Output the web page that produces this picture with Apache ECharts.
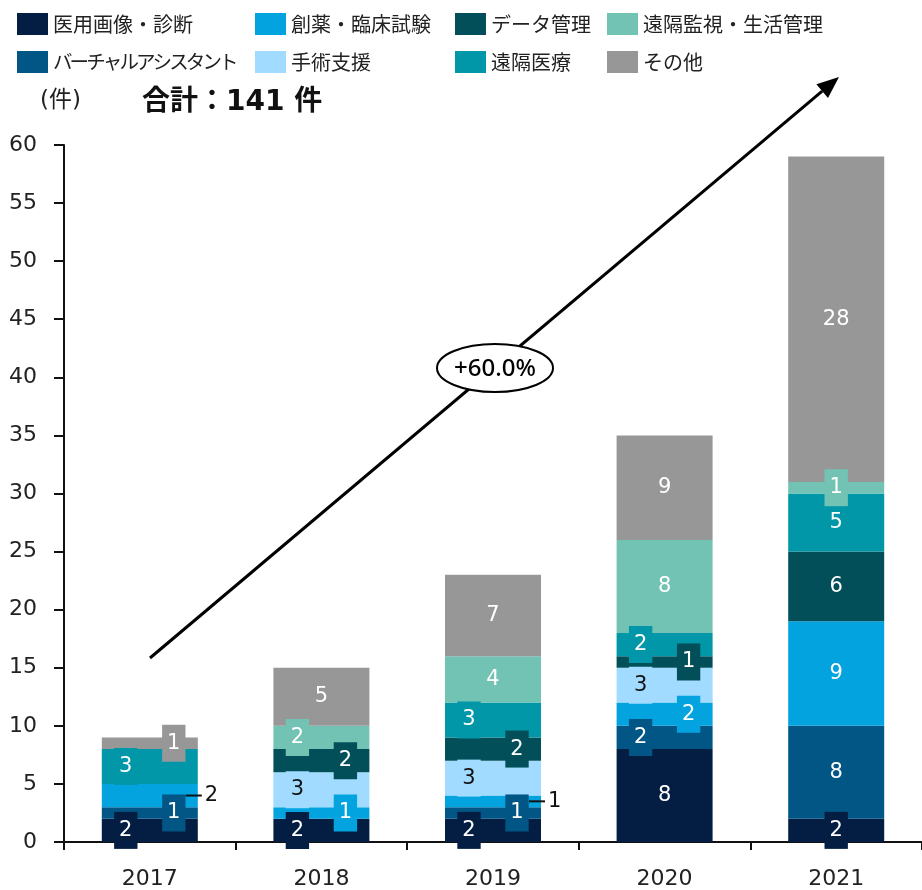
<!DOCTYPE html>
<html>
<head>
<meta charset="utf-8">
<script src="https://cdn.jsdelivr.net/npm/echarts@6/dist/echarts.min.js"></script>
<style>
  html, body { margin: 0; padding: 0; background: #fff; }
  #chart { width: 922px; height: 890px; }
</style>
</head>
<body>
<div id="chart"></div>
<script>
// 分野別の件数（2017〜2021年）
const years = ['2017', '2018', '2019', '2020', '2021'];

const medicalImaging   = [2, 2, 2, 8, 2];   // 医用画像・診断
const virtualAssistant = [1, 0, 1, 2, 8];   // バーチャルアシスタント
const drugDiscovery    = [2, 1, 1, 2, 9];   // 創薬・臨床試験
const surgerySupport   = [0, 3, 3, 3, 0];   // 手術支援
const dataManagement   = [0, 2, 2, 1, 6];   // データ管理
const telemedicine     = [3, 0, 3, 2, 5];   // 遠隔医療
const remoteMonitoring = [0, 2, 4, 8, 1];   // 遠隔監視・生活管理
const others           = [1, 5, 7, 9, 28];  // その他

const yTicks = { min: 0, max: 60, interval: 5 };

// 系列の定義（積み上げ順）
const seriesDefs = [
  { name: '医用画像・診断',         values: medicalImaging,   color: '#031e42', text: '#fff' },
  { name: 'バーチャルアシスタント', values: virtualAssistant, color: '#025686', text: '#fff' },
  { name: '創薬・臨床試験',         values: drugDiscovery,    color: '#03a3e0', text: '#fff' },
  { name: '手術支援',               values: surgerySupport,   color: '#a1dbff', text: '#111' },
  { name: 'データ管理',             values: dataManagement,   color: '#024f59', text: '#fff' },
  { name: '遠隔医療',               values: telemedicine,     color: '#0197a8', text: '#fff' },
  { name: '遠隔監視・生活管理',     values: remoteMonitoring, color: '#72c3b3', text: '#fff' },
  { name: 'その他',                 values: others,           color: '#979797', text: '#fff' }
];

// ラベルの配置：L=左寄せ, R=右寄せ, C=中央, O=棒の外側
const labelSide = [
  ['L', 'L', 'L', 'C', 'C'],
  ['R', 'C', 'R', 'L', 'C'],
  ['O', 'R', 'O', 'R', 'C'],
  ['C', 'L', 'L', 'L', 'C'],
  ['C', 'R', 'R', 'R', 'C'],
  ['L', 'C', 'L', 'L', 'C'],
  ['C', 'L', 'C', 'C', 'C'],
  ['R', 'C', 'C', 'C', 'C']
];

const totals = years.map((_, i) => seriesDefs.reduce((s, d) => s + d.values[i], 0));
const grandTotal = totals.reduce((a, b) => a + b, 0);
const cagr = Math.pow(totals[totals.length - 1] / totals[0], 1 / (years.length - 1)) - 1;

const FONT = '"Noto Sans CJK JP", "Noto Sans", sans-serif';
const NUM_FONT = '"DejaVu Sans", "Noto Sans CJK JP", sans-serif';
const SHIFT = 24;

const barSeries = seriesDefs.map((def, si) => ({
  name: def.name,
  type: 'bar',
  stack: 'total',
  barWidth: 96,
  itemStyle: { color: def.color },
  emphasis: { disabled: true },
  data: def.values.map((v, yi) => {
    const side = labelSide[si][yi];
    let label;
    if (v === 0) {
      label = { show: false };
    } else if (side === 'O') {
      label = {
        show: true,
        position: 'right',
        distance: 0,
        offset: [-12, 0],
        formatter: '{ln| }{v|' + v + '}',
        rich: {
          ln: { width: 16, height: 2, backgroundColor: '#111', verticalAlign: 'middle' },
          v: { fontSize: 21, color: '#111', fontFamily: NUM_FONT, padding: [0, 0, 0, 3] }
        }
      };
    } else {
      label = {
        show: true,
        position: 'inside',
        offset: [side === 'L' ? -SHIFT : side === 'R' ? SHIFT : 0, 0],
        formatter: String(v),
        color: def.text,
        fontSize: 21,
        fontFamily: NUM_FONT,
        lineHeight: 25,
        padding: [6, 5],
        backgroundColor: def.color
      };
    }
    return { value: v, label };
  })
}));

const totalSeries = {
  name: '合計',
  type: 'line',
  data: totals,
  symbol: 'none',
  lineStyle: { width: 0, opacity: 0 },
  silent: true,
  label: {
    show: true,
    position: 'top',
    distance: 9,
    color: '#111',
    fontSize: 21,
    fontFamily: NUM_FONT
  },
  z: 10
};

// 凡例：4列×2行
const legendCols = [
  { left: 12,  items: [0, 1] },
  { left: 250, items: [2, 3] },
  { left: 450, items: [4, 5] },
  { left: 602, items: [6, 7] }
];
const legendOrder = [
  '医用画像・診断', 'バーチャルアシスタント',
  '創薬・臨床試験', '手術支援',
  'データ管理', '遠隔医療',
  '遠隔監視・生活管理', 'その他'
];
// 長い項目名は字間を詰めて列幅に収める
const condensed = { 'バーチャルアシスタント': 16.6 };
const legendFormatter = name => {
  if (!condensed[name]) return name;
  return Array.from(name).map(ch => '{k|' + ch + '}').join('');
};
const legends = legendCols.map(c => ({
  orient: 'vertical',
  left: c.left,
  top: 8,
  itemWidth: 31,
  itemHeight: 22,
  itemGap: 16,
  icon: 'rect',
  selectedMode: false,
  data: c.items.map(i => legendOrder[i]),
  formatter: legendFormatter,
  textStyle: {
    fontSize: 20,
    color: '#222',
    fontFamily: FONT,
    rich: {
      k: { width: condensed['バーチャルアシスタント'], fontSize: 19.5, color: '#222', fontFamily: FONT }
    }
  }
}));

// 矢印
const arrowFrom = [150, 658];
const arrowTo = [839, 77];
const dx = arrowTo[0] - arrowFrom[0], dy = arrowTo[1] - arrowFrom[1];
const len = Math.hypot(dx, dy);
const ux = dx / len, uy = dy / len;
const nx = -uy, ny = ux;
const headLen = 22, headHalf = 9;
const base = [arrowTo[0] - headLen * ux, arrowTo[1] - headLen * uy];

const chart = echarts.init(document.getElementById('chart'), null, { renderer: 'canvas' });
chart.setOption({
  animation: false,
  backgroundColor: '#fff',
  textStyle: { fontFamily: FONT },
  legend: legends,
  grid: { left: 64, right: -3, top: 145, bottom: 47, containLabel: false },
  xAxis: {
    type: 'category',
    data: years,
    axisLine: { lineStyle: { color: '#111', width: 2 } },
    axisTick: { show: true, length: 8, lineStyle: { color: '#111', width: 2 } },
    axisLabel: { fontSize: 22, color: '#222', margin: 26, fontFamily: NUM_FONT }
  },
  yAxis: {
    type: 'value',
    min: yTicks.min,
    max: yTicks.max,
    interval: yTicks.interval,
    axisLine: { show: true, lineStyle: { color: '#111', width: 2 } },
    axisTick: { show: true, length: 10, lineStyle: { color: '#111', width: 2 } },
    axisLabel: { fontSize: 22, color: '#222', margin: 27, fontFamily: NUM_FONT },
    splitLine: { show: false }
  },
  series: [...barSeries, totalSeries],
  graphic: [
    {
      type: 'text',
      left: 40,
      top: 90,
      style: { text: '(件)', fontSize: 23, fill: '#222', fontFamily: NUM_FONT }
    },
    {
      type: 'text',
      left: 142,
      top: 89,
      style: { text: '合計：' + grandTotal + ' 件', fontSize: 28, fontWeight: 'bold', fill: '#111', fontFamily: NUM_FONT }
    },
    {
      type: 'line',
      shape: { x1: arrowFrom[0], y1: arrowFrom[1], x2: base[0], y2: base[1] },
      style: { stroke: '#000', lineWidth: 3 },
      z: 20
    },
    {
      type: 'polygon',
      shape: {
        points: [
          arrowTo,
          [base[0] + headHalf * nx, base[1] + headHalf * ny],
          [base[0] - headHalf * nx, base[1] - headHalf * ny]
        ]
      },
      style: { fill: '#000' },
      z: 20
    },
    {
      type: 'ellipse',
      shape: { cx: 495, cy: 368, rx: 58, ry: 24 },
      style: { fill: '#fff', stroke: '#000', lineWidth: 2 },
      z: 21
    },
    {
      type: 'text',
      x: 495,
      y: 369,
      style: {
        text: '+' + (cagr * 100).toFixed(1) + '%',
        fontSize: 24,
        fontWeight: 500,
        fill: '#000',
        fontFamily: '"Noto Sans", sans-serif',
        align: 'center',
        verticalAlign: 'middle'
      },
      z: 22
    }
  ]
});
</script>
</body>
</html>
